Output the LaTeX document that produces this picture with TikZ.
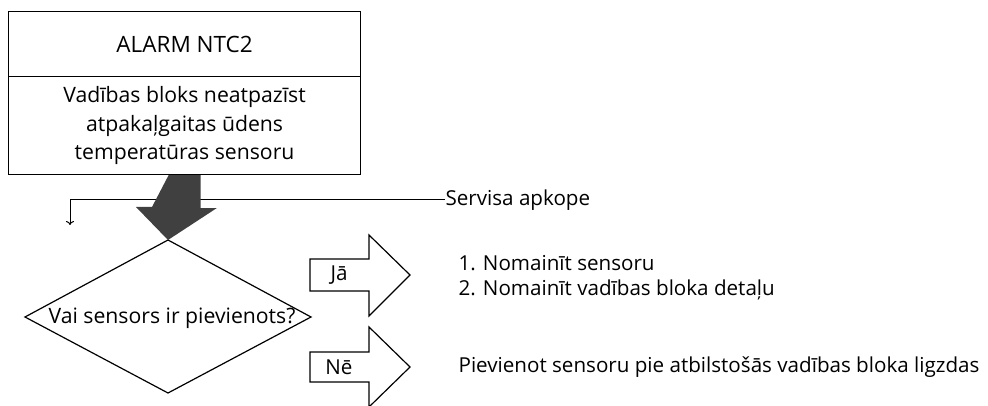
\documentclass[tikz,border=0pt]{standalone}
\usepackage{fontspec}
\setmainfont{Open Sans}
\usetikzlibrary{arrows.meta}
\definecolor{arrowgray}{HTML}{404040}
\begin{document}
\begin{tikzpicture}[x=1pt,y=-1pt,line width=1.2pt,
  txt/.style={font=\fontsize{20.6}{28.5}\selectfont, inner sep=0pt},
  boxpart/.style={draw, rectangle, minimum width=352pt, inner sep=0pt, txt, align=center},
  blockarrow/.style={draw, line width=1.2pt, fill=white}]
\useasboundingbox (0,0) rectangle (988,406);
% header box
\node[boxpart, minimum height=65pt, anchor=north west, font=\fontsize{22.5}{28.5}\selectfont] (title) at (8,11) {ALARM NTC2};
\node[boxpart, minimum height=98pt, anchor=north west, font=\fontsize{21.2}{28.5}\selectfont] (desc) at (8,76)
  {Vadības bloks neatpazīst\\atpakaļgaitas ūdens\\temperatūras sensoru};
% service line
\node[txt, anchor=west] (serv) at (445,200) {Servisa apkope};
\coordinate (sdown) at (70,225);
\draw[line width=1pt, -{To[length=4pt,width=8pt]}] (serv.west) -| (sdown);
% decision diamond
\coordinate (dtop) at (168,240);
\coordinate (dleft) at (25,317);
\coordinate (dright) at (311,317);
\coordinate (dbottom) at (168,393);
\draw (dtop) -- (dright) -- (dbottom) -- (dleft) -- cycle;
\node[txt, font=\fontsize{21.2}{28.5}\selectfont] (q) at (172,318) {Vai sensors ir pievienots?};
% big gray arrow from box to diamond
\fill[arrowgray] ([xshift=-16pt]desc.south) -- ([xshift=16pt]desc.south) -- ++(0,33) -- ++(16,0)
  -- (dtop) -- (136,207) -- (152,207) -- cycle;
% Jā arrow
\draw[blockarrow] (310,259) -- (369,259) -- (369,235) -- (410,275) -- (369,316) -- (369,291) -- (310,291) -- cycle;
\node[txt] (ja) at (339,275) {Jā};
% Nē arrow
\draw[blockarrow] (310,352) -- (369,352) -- (369,327) -- (410,367) -- (369,407) -- (369,382) -- (310,382) -- cycle;
\node[txt] (ne) at (339,367) {Nē};
% results
\node[txt, anchor=west] (r1) at (458,263) {1. Nomainīt sensoru};
\node[txt, anchor=west] (r2) at (458,290) {2. Nomainīt vadības bloka detaļu};
\node[txt, anchor=west] (r3) at (458,367) {Pievienot sensoru pie atbilstošās vadības bloka ligzdas};
\end{tikzpicture}
\end{document}
